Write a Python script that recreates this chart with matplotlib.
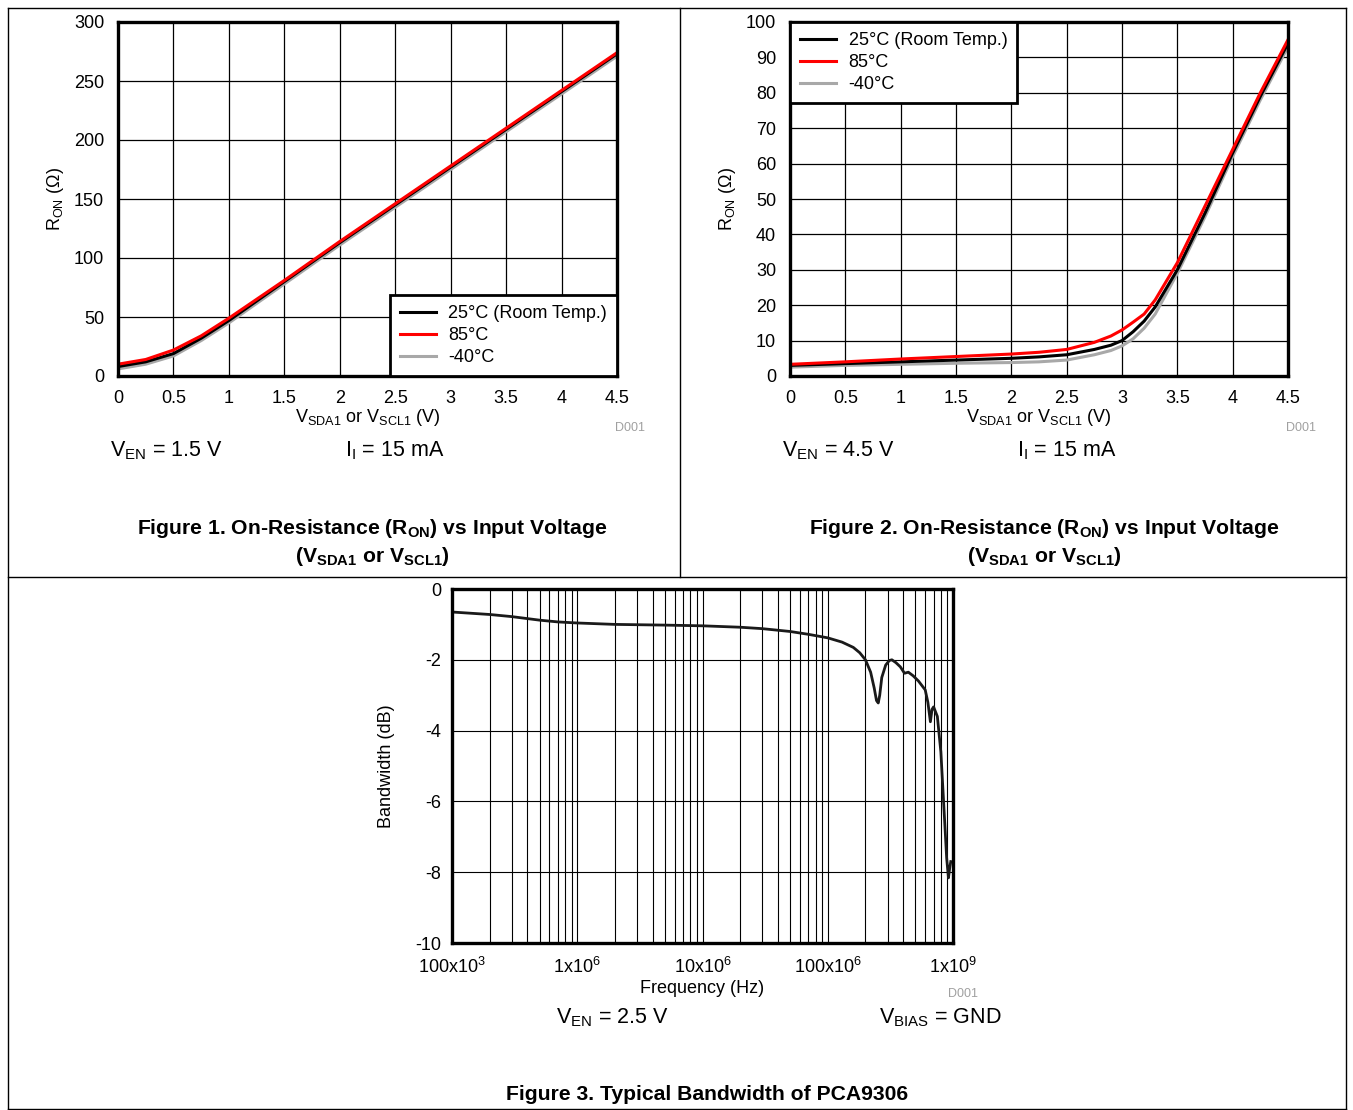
import matplotlib
matplotlib.use('Agg')
import matplotlib.pyplot as plt
from matplotlib.lines import Line2D

plt.rcParams['font.family'] = ['Liberation Sans', 'DejaVu Sans']
plt.rcParams['mathtext.fontset'] = 'custom'
plt.rcParams['mathtext.rm'] = 'Liberation Sans'
plt.rcParams['mathtext.it'] = 'Liberation Sans:italic'
plt.rcParams['mathtext.bf'] = 'Liberation Sans:bold'
plt.rcParams['axes.unicode_minus'] = False

# Figure 1: V_EN = 1.5 V
v1 = [0, 0.25, 0.5, 0.75, 1.0, 1.5, 2.0, 2.5, 3.0, 3.5, 4.0, 4.5]
r1_25 = [8, 12, 19, 32, 47, 80, 113, 145, 177, 209, 241, 273]
r1_85 = [10, 14, 22, 34, 49, 81, 114, 146, 178, 210, 242, 274]
r1_m40 = [6, 10, 17, 30, 45, 78, 111, 143, 175, 207, 239, 271]

# Figure 2: V_EN = 4.5 V
v2 = [0, 0.5, 1.0, 1.5, 2.0, 2.25, 2.5, 2.75, 2.9, 3.0, 3.1, 3.2, 3.3, 3.5, 3.75, 4.0, 4.25, 4.5]
r2_25 = [3.0, 3.5, 4.0, 4.5, 5.0, 5.4, 6.0, 7.5, 8.7, 10.0, 12.5, 15.5, 19.5, 30, 46, 63, 79, 94]
r2_85 = [3.3, 4.0, 4.8, 5.5, 6.2, 6.7, 7.5, 9.5, 11.3, 13.0, 15.2, 17.5, 21.5, 32, 48, 64, 80, 95]
r2_m40 = [2.5, 3.0, 3.3, 3.6, 3.8, 4.0, 4.5, 6.0, 7.2, 8.5, 10.5, 13.5, 17.5, 29, 45, 62, 78, 93]

# Figure 3: bandwidth
freq = [1e5, 2e5, 3e5, 5e5, 7e5, 1e6, 2e6, 5e6, 1e7, 2e7, 3e7, 5e7, 7e7, 1e8,
        1.3e8, 1.6e8, 1.8e8, 2.0e8, 2.2e8, 2.35e8, 2.45e8, 2.53e8, 2.6e8, 2.7e8,
        2.9e8, 3.1e8, 3.25e8, 3.5e8, 3.8e8, 4.1e8, 4.4e8, 4.8e8, 5.3e8, 6.0e8,
        6.3e8, 6.6e8, 6.8e8, 7.0e8, 7.5e8, 8.0e8, 8.5e8, 8.9e8, 9.2e8, 9.4e8, 9.6e8]
bw = [-0.65, -0.72, -0.78, -0.88, -0.93, -0.96, -1.0, -1.02, -1.04, -1.08,
      -1.12, -1.2, -1.28, -1.38, -1.5, -1.65, -1.8, -2.0, -2.35, -2.8, -3.15,
      -3.22, -3.0, -2.5, -2.15, -2.02, -2.0, -2.08, -2.2, -2.38, -2.35, -2.45,
      -2.6, -2.85, -3.2, -3.75, -3.4, -3.33, -3.6, -4.6, -6.3, -7.6, -8.16, -7.9, -7.7]
freq_ticks = [1e5, 1e6, 1e7, 1e8, 1e9]
freq_labels = [r'100x10$^{3}$', r'1x10$^{6}$', r'10x10$^{6}$', r'100x10$^{6}$', r'1x10$^{9}$']

W, H = 1353, 1110
fig = plt.figure(figsize=(W / 100, H / 100), dpi=100)


def px(x, y):
    return x / W, 1 - y / H


def style_axes(ax):
    for s in ax.spines.values():
        s.set_linewidth(2.4)
        s.set_color('black')
    ax.tick_params(which='both', length=0, labelsize=13, pad=10, colors='black')
    ax.set_axisbelow(True)


# frame lines
for (x0, y0, x1, y1) in [(8, 8, 1346, 8), (8, 8, 8, 1109), (1346, 8, 1346, 1109),
                         (680, 8, 680, 577), (8, 577, 1346, 577), (8, 1109, 1346, 1109)]:
    fig.add_artist(Line2D([x0 / W, x1 / W], [1 - y0 / H, 1 - y1 / H], color='black', lw=1.0))

colors = {'25': 'black', '85': '#ff0000', 'm40': '#a8a8a8'}
labels = {'25': '25°C (Room Temp.)', '85': '85°C', 'm40': '-40°C'}
xlab = r'$\mathrm{V_{SDA1}}$ or $\mathrm{V_{SCL1}}$ (V)'
ylab = r'$\mathrm{R_{ON}}$ ($\Omega$)'
leg_kw = dict(fontsize=13, fancybox=False, framealpha=1, edgecolor='black', borderaxespad=0,
              handlelength=2.0, handletextpad=0.7, labelspacing=0.28, borderpad=0.55)

# ---- Figure 1
ax1 = fig.add_axes([118 / W, 1 - 376 / H, 499 / W, 354 / H])
ax1.plot(v1, r1_m40, color=colors['m40'], lw=2.2, label=labels['m40'])
ax1.plot(v1, r1_25, color=colors['25'], lw=2.2, label=labels['25'])
ax1.plot(v1, r1_85, color=colors['85'], lw=2.2, label=labels['85'])
ax1.set_xlim(0, 4.5)
ax1.set_ylim(0, 300)
ax1.set_xticks([0, 0.5, 1, 1.5, 2, 2.5, 3, 3.5, 4, 4.5])
ax1.set_xticklabels(['0', '0.5', '1', '1.5', '2', '2.5', '3', '3.5', '4', '4.5'])
ax1.set_yticks(range(0, 301, 50))
ax1.grid(True, color='black', lw=0.9)
style_axes(ax1)
ax1.set_xlabel(xlab, fontsize=13, labelpad=0)
ax1.set_ylabel(ylab, fontsize=13, labelpad=6)
h, l = ax1.get_legend_handles_labels()
leg = ax1.legend([h[1], h[2], h[0]], [l[1], l[2], l[0]], loc='lower right', **leg_kw)
leg.get_frame().set_linewidth(2.0)

# ---- Figure 2
ax2 = fig.add_axes([790 / W, 1 - 376 / H, 498 / W, 354 / H])
ax2.plot(v2, r2_m40, color=colors['m40'], lw=2.2, label=labels['m40'])
ax2.plot(v2, r2_25, color=colors['25'], lw=2.2, label=labels['25'])
ax2.plot(v2, r2_85, color=colors['85'], lw=2.2, label=labels['85'])
ax2.set_xlim(0, 4.5)
ax2.set_ylim(0, 100)
ax2.set_xticks([0, 0.5, 1, 1.5, 2, 2.5, 3, 3.5, 4, 4.5])
ax2.set_xticklabels(['0', '0.5', '1', '1.5', '2', '2.5', '3', '3.5', '4', '4.5'])
ax2.set_yticks(range(0, 101, 10))
ax2.grid(True, color='black', lw=0.9)
style_axes(ax2)
ax2.set_xlabel(xlab, fontsize=13, labelpad=0)
ax2.set_ylabel(ylab, fontsize=13, labelpad=6)
h, l = ax2.get_legend_handles_labels()
leg = ax2.legend([h[1], h[2], h[0]], [l[1], l[2], l[0]], loc='upper left', **leg_kw)
leg.get_frame().set_linewidth(2.0)

# ---- Figure 3
ax3 = fig.add_axes([452 / W, 1 - 943 / H, 501 / W, 354 / H])
ax3.plot(freq, bw, color='#1a1a1a', lw=2.0)
ax3.set_xscale('log')
ax3.set_xlim(1e5, 1e9)
ax3.set_ylim(-10, 0)
ax3.set_xticks(freq_ticks)
ax3.set_xticklabels(freq_labels)
ax3.set_yticks(range(-10, 1, 2))
ax3.grid(True, which='both', axis='x', color='black', lw=0.8)
ax3.grid(True, which='major', axis='y', color='black', lw=0.8)
style_axes(ax3)
ax3.tick_params(axis='y', pad=8)
ax3.set_xlabel('Frequency (Hz)', fontsize=13, labelpad=2)
ax3.set_ylabel('Bandwidth (dB)', fontsize=13, labelpad=14)

# ---- annotations
small_gray = dict(fontsize=9, color='#a0a0a0', ha='center', va='center')
fig.text(*px(630, 428), 'D001', **small_gray)
fig.text(*px(1301, 428), 'D001', **small_gray)
fig.text(*px(963, 994), 'D001', **small_gray)

cond = dict(fontsize=15.5, ha='left', va='center')
fig.text(*px(110, 451), r'$\mathrm{V_{EN}}$ = 1.5 V', **cond)
fig.text(*px(345, 451), r'$\mathrm{I_{I}}$ = 15 mA', **cond)
fig.text(*px(782, 451), r'$\mathrm{V_{EN}}$ = 4.5 V', **cond)
fig.text(*px(1017, 451), r'$\mathrm{I_{I}}$ = 15 mA', **cond)
fig.text(*px(556, 1018), r'$\mathrm{V_{EN}}$ = 2.5 V', **cond)
fig.text(*px(879, 1018), r'$\mathrm{V_{BIAS}}$ = GND', **cond)

cap = dict(fontsize=15.2, fontweight='bold', ha='center', va='center')
fig.text(*px(372, 528), r'Figure 1. On-Resistance ($\mathbf{R_{ON}}$) vs Input Voltage', **cap)
fig.text(*px(372, 556), r'($\mathbf{V_{SDA1}}$ or $\mathbf{V_{SCL1}}$)', **cap)
fig.text(*px(1044, 528), r'Figure 2. On-Resistance ($\mathbf{R_{ON}}$) vs Input Voltage', **cap)
fig.text(*px(1044, 556), r'($\mathbf{V_{SDA1}}$ or $\mathbf{V_{SCL1}}$)', **cap)
fig.text(*px(707, 1095), 'Figure 3. Typical Bandwidth of PCA9306', **cap)

fig.savefig('out.png', dpi=100)
